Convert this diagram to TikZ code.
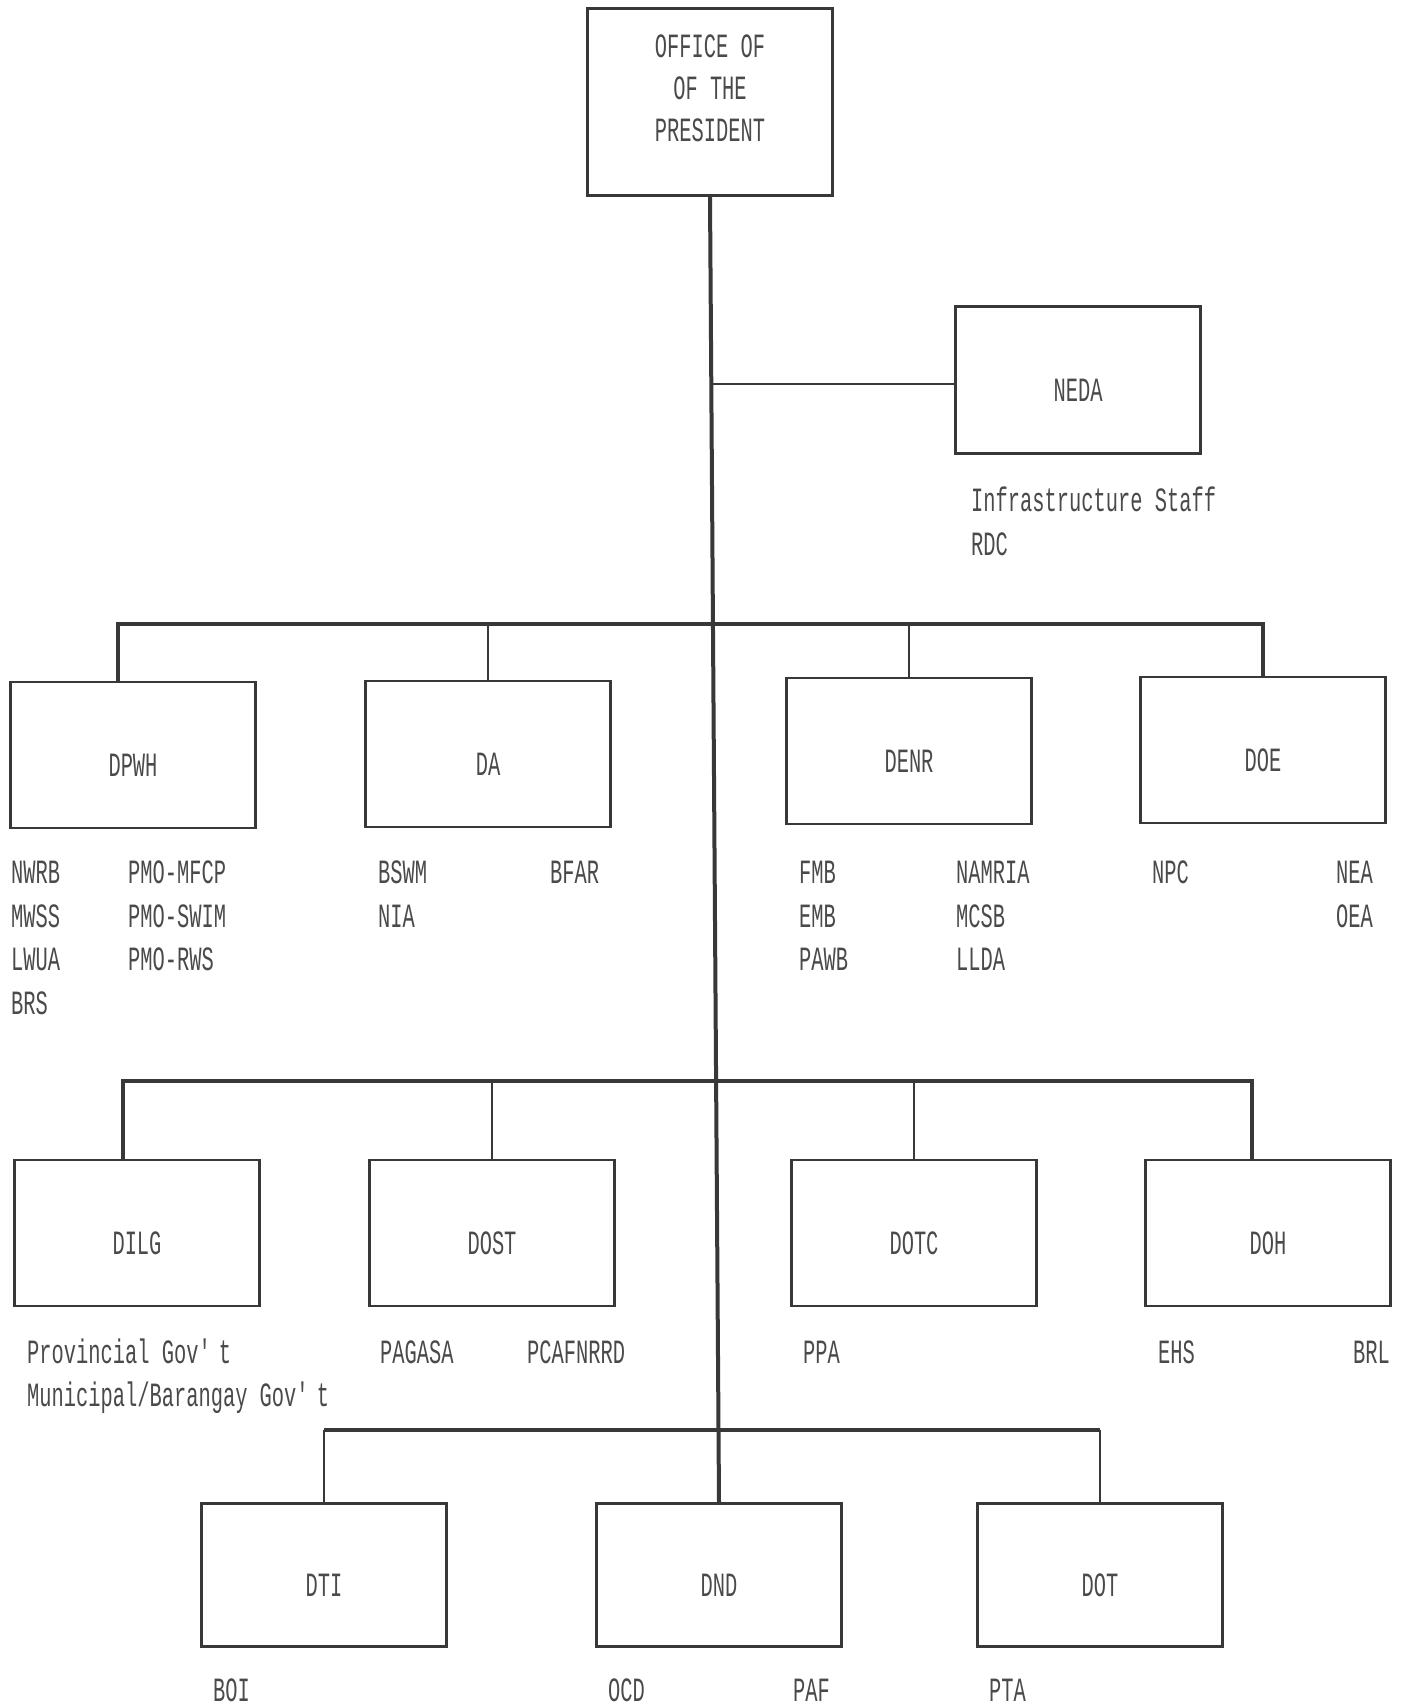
\documentclass[tikz,border=0pt]{standalone}
\usepackage{fontspec}
\setmainfont{Liberation Mono}[FakeStretch=0.6]
\definecolor{ink}{HTML}{383838}
\definecolor{txtc}{HTML}{4A4A4A}
\tikzset{
  box/.style={draw=ink, line width=2.6pt, minimum width=245pt, minimum height=146pt, inner sep=0pt},
  bus/.style={draw=ink, line width=4pt},
  drop/.style={draw=ink, line width=2.8pt},
  thinlink/.style={draw=ink, line width=2pt},
  txt/.style={font=\fontsize{34}{40}\selectfont, text=txtc, inner sep=0pt, anchor=base west},
  lbl/.style={font=\fontsize{34}{40}\selectfont, text=txtc, inner sep=0pt}
}
\begin{document}
\begin{tikzpicture}[x=1pt,y=-1pt]
\useasboundingbox[fill=white] (0,0) rectangle (1408,1707);
% boxes
\node[box, minimum height=187pt] (pres) at (710,102) {};
\node[lbl, align=center, font=\fontsize{34}{42}\selectfont] (prestxt) at (710,88) {OFFICE OF\\OF THE\\PRESIDENT};
\node[box, minimum height=147pt] (neda) at (1078,380) {};
\node[box] (dpwh) at (133,755) {};
\node[box] (da) at (488,754) {};
\node[box] (denr) at (909,751) {};
\node[box] (doe) at (1263,750) {};
\node[box] (dilg) at (137,1233) {};
\node[box] (dost) at (492,1233) {};
\node[box] (dotc) at (914,1233) {};
\node[box] (doh) at (1268,1233) {};
\node[box, minimum height=143pt] (dti) at (324,1575) {};
\node[box, minimum height=143pt] (dnd) at (719,1575) {};
\node[box, minimum height=143pt] (dot) at (1100,1575) {};
% box labels
\foreach \b/\t in {neda/NEDA,dpwh/DPWH,da/DA,denr/DENR,doe/DOE,dilg/DILG,dost/DOST,dotc/DOTC,doh/DOH,dti/DTI,dnd/DND,dot/DOT}
  \node[lbl] (\b-lbl) at ([yshift=-10pt]\b.center) {\t};
% trunk
\draw[bus] (pres.south) -- (dnd.north);
\coordinate (nedaj) at (713,384);
\coordinate (b1) at (715,624);
\coordinate (b2) at (716,1081);
\coordinate (b3) at (718,1430);
\draw[thinlink] (nedaj) -- (neda.west |- nedaj);
% bus 1
\coordinate (dpwhtop) at ([xshift=-15pt]dpwh.north);
\draw[bus] (dpwhtop) -- (dpwhtop |- b1) -- (doe.north |- b1) -- (doe.north);
\draw[drop] (da.north) -- (da.north |- b1);
\draw[drop] (denr.north) -- (denr.north |- b1);
% bus 2
\coordinate (dilgtop) at ([xshift=-14pt]dilg.north);
\coordinate (dohtop) at ([xshift=-16pt]doh.north);
\draw[bus] (dilgtop) -- (dilgtop |- b2) -- (dohtop |- b2) -- (dohtop);
\draw[drop] (dost.north) -- (dost.north |- b2);
\draw[drop] (dotc.north) -- (dotc.north |- b2);
% bus 3
\draw[bus] (b3) -- (dti.north |- b3);
\draw[bus] (b3) -- (dot.north |- b3);
\draw[drop] (dti.north) -- (dti.north |- b3);
\draw[drop] (dot.north) -- (dot.north |- b3);
% NEDA texts
\node[txt] (infra) at (971,511) {Infrastructure Staff};
\node[txt] (rdc) at (971,555) {RDC};
% row texts
\foreach \n/\x/\y/\t in {
  nwrb/11/883/NWRB, mwss/11/927/MWSS, lwua/11/970/LWUA, brs/11/1014/BRS,
  pmoa/128/883/PMO-MFCP, pmob/128/927/PMO-SWIM, pmoc/128/970/PMO-RWS,
  bswm/378/883/BSWM, nia/378/927/NIA, bfar/550/883/BFAR,
  fmb/799/883/FMB, emb/799/927/EMB, pawb/799/970/PAWB,
  namria/956/883/NAMRIA, mcsb/956/927/MCSB, llda/956/970/LLDA,
  npc/1152/883/NPC, nea/1336/883/NEA, oea/1336/927/OEA,
  pagasa/380/1363/PAGASA, pcafnrrd/527/1363/PCAFNRRD, ppa/803/1363/PPA,
  ehs/1158/1363/EHS, brl/1353/1363/BRL,
  boi/213/1701/BOI, ocd/608/1701/OCD, paf/793/1701/PAF, pta/989/1701/PTA}
  \node[txt] (\n) at (\x,\y) {\t};
\node[txt] (prov) at (27,1363) {Provincial Gov\textquotesingle t};
\node[txt] (muni) at (27,1406) {Municipal/Barangay Gov\textquotesingle t};
\end{tikzpicture}
\end{document}
